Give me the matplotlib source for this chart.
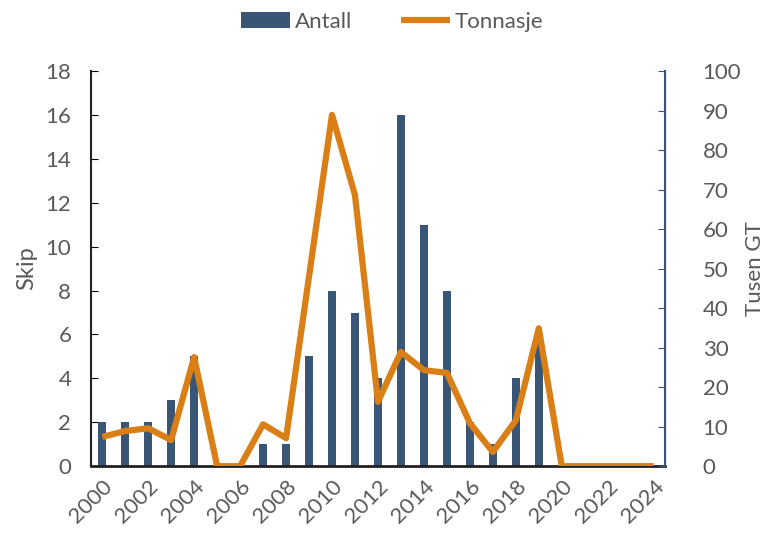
import numpy as np
import matplotlib.pyplot as plt

plt.rcParams['font.family'] = ['Lato', 'DejaVu Sans']

# Data
years = list(range(2000, 2025))
antall = [2, 2, 2, 3, 5, 0, 0, 1, 1, 5, 8, 7, 4, 16, 11, 8, 2, 1, 4, 6, 0, 0, 0, 0, 0]
tonnasje = [7.4, 8.9, 9.6, 6.6, 27.6, 0, 0, 10.6, 7.1, 48, 88.9, 68.6, 16.3, 28.9,
            24.3, 23.6, 10.9, 3.6, 11.6, 34.9, 0, 0, 0, 0, 0]

bar_col = '#3a5676'
line_col = '#d97f16'
txt_col = '#595959'

fig = plt.figure(figsize=(7.69, 5.34), dpi=100)
ax = fig.add_axes([0.118, 0.127, 0.747, 0.74])
ax2 = ax.twinx()

x = np.arange(len(years))
b = ax.bar(x, antall, width=0.36, color=bar_col, label='Antall', zorder=2)
l, = ax2.plot(x, tonnasje, color=line_col, lw=4.5, label='Tonnasje',
              solid_joinstyle='round', solid_capstyle='butt', zorder=3)

ax.set_xlim(-0.5, len(years) - 0.5)
ax.set_ylim(0, 18)
ax.set_yticks(range(0, 19, 2))
ax2.set_ylim(0, 100)
ax2.set_yticks(range(0, 101, 10))

ax.set_xticks(x[::2])
ax.set_xticklabels([str(y) for y in years[::2]], rotation=45, ha='right',
                   rotation_mode='anchor', fontsize=16, color=txt_col)

ax.tick_params(axis='y', direction='in', length=5, labelsize=16, labelcolor=txt_col, pad=14)
ax.tick_params(axis='x', length=0, pad=7)
ax2.tick_params(axis='y', direction='in', length=5, labelsize=16, labelcolor=txt_col,
                color=bar_col, pad=27)

ax.set_ylabel('Skip', fontsize=17, color=txt_col, labelpad=6)
ax2.set_ylabel('Tusen GT', fontsize=16, color=txt_col, labelpad=3)

for a in (ax, ax2):
    a.spines['top'].set_visible(False)
ax.spines['left'].set_color('#222222')
ax.spines['bottom'].set_color('#222222')
ax.spines['left'].set_linewidth(1.5)
ax.spines['bottom'].set_linewidth(2)
ax2.spines['right'].set_color(bar_col)
ax2.spines['right'].set_linewidth(1.5)
ax2.spines['left'].set_visible(False)
ax2.spines['bottom'].set_visible(False)

fig.legend([b, l], ['Antall', 'Tonnasje'], loc='upper center', ncol=2, frameon=False,
           bbox_to_anchor=(0.51, 1.015), fontsize=16, labelcolor=txt_col,
           handlelength=2.2, handletextpad=0.2, columnspacing=2.2)

fig.savefig('out.png', dpi=100)
